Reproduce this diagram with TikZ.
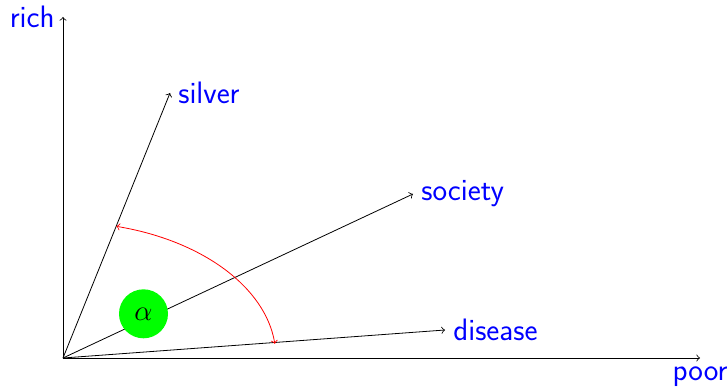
\documentclass[tikz,border=0pt]{standalone}
\usepackage{tikz}

\begin{document}
\begin{tikzpicture}[
    x=0.5pt, y=0.5pt,
    lbl/.style={text=blue, font=\sffamily\fontsize{15.5}{18}\selectfont, inner sep=4pt},
    angle/.style={circle, fill=green, inner sep=0pt, minimum size=24.5pt, font=\fontsize{15.5}{18}\selectfont}
]

    \useasboundingbox (-63,-28) rectangle (664,358);

    \coordinate (O) at (0,0);

    % axes
    \node[lbl, left]  (rich) at (0,341) {rich};
    \node[lbl, below] (poor) at (637,0) {poor};

    \draw[->] (O) -- (rich.east);
    \draw[->] (O) -- (poor.north);

    % vectors
    \node[lbl, right] (silver)  at (107,265) {silver};
    \node[lbl, right] (society) at (350,164) {society};
    \node[lbl, right] (disease) at (382,28)  {disease};

    \foreach \v in {silver, society, disease}
        \draw[->] (O) -- (\v.west);

    % angle
    \node[angle] (alpha) at (80.5,44.2) {$\alpha$};

    \coordinate (arcA) at (75.5:106.5pt and 68pt);
    \draw[red, <->] (arcA) arc[start angle=75.5, end angle=6, x radius=106.5pt, y radius=68pt];

\end{tikzpicture}
\end{document}
